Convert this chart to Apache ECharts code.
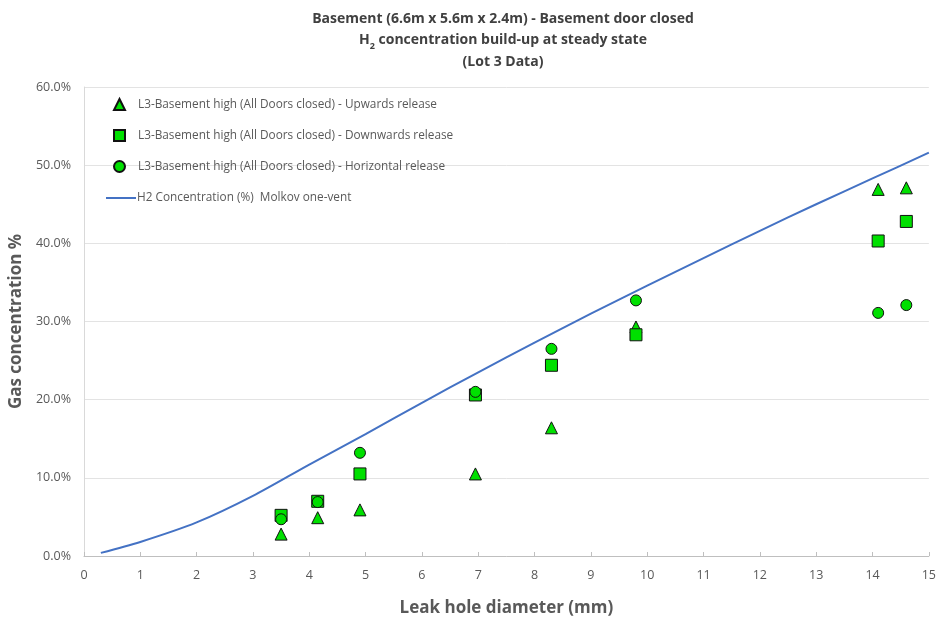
<!DOCTYPE html>
<html><head><meta charset="utf-8">
<script src="https://cdn.jsdelivr.net/npm/echarts@6/dist/echarts.min.js"></script>
<style>html,body{margin:0;padding:0;background:#fff}#c{width:939px;height:624px}</style>
</head><body><div id="c"></div>
<script>
const diameters = [3.5, 4.15, 4.9, 6.95, 8.3, 9.8, 14.1, 14.6];
const upwards = [0.028, 0.049, 0.059, 0.105, 0.164, 0.293, 0.469, 0.471];
const downwards = [0.052, 0.070, 0.105, 0.206, 0.244, 0.283, 0.403, 0.428];
const horizontal = [0.047, 0.069, 0.132, 0.210, 0.265, 0.327, 0.311, 0.321];
const molkovX = [0.3, 1, 2, 3, 4, 5, 6, 7, 8, 9, 10, 11, 12, 13, 14, 15];
const molkovY = [0.004, 0.018, 0.043, 0.077, 0.117, 0.156, 0.196, 0.235, 0.273, 0.310, 0.346, 0.381, 0.416, 0.450, 0.483, 0.516];
const names = [
  'L3-Basement high (All Doors closed) - Upwards release',
  'L3-Basement high (All Doors closed) - Downwards release',
  'L3-Basement high (All Doors closed) - Horizontal release',
  'H2 Concentration (%)  Molkov one-vent'
];
const pair = (xs, ys) => xs.map((x, i) => [x, ys[i]]);
const green = '#00e000';
const grey = '#595959';
const font = '"Open Sans", "Liberation Sans", sans-serif';
const chart = echarts.init(document.getElementById('c'));
const mk = (name, sym, size, data) => ({
  name, type: 'scatter', symbol: sym, symbolSize: size, data,
  itemStyle: { color: green, borderColor: '#111', borderWidth: 1, opacity: 1 }
});
chart.setOption({
  animation: false,
  textStyle: { fontFamily: font },
  title: {
    text: 'Basement (6.6m x 5.6m x 2.4m) - Basement door closed\nH{s|2} concentration build-up at steady state\n(Lot 3 Data)',
    left: 498, top: 3, textAlign: 'center',
    textStyle: {
      fontSize: 14, fontWeight: 'bold', color: '#404040', lineHeight: 21.5, fontFamily: font,
      rich: { s: { fontSize: 9, fontWeight: 'bold', color: '#404040', verticalAlign: 'bottom', padding: [7, 0, 0, 0], fontFamily: font } }
    }
  },
  grid: { left: 82, right: 4, top: 87, bottom: 68, containLabel: false },
  legend: [{
    orient: 'vertical', left: 108, top: 93, itemGap: 18, itemWidth: 11, itemHeight: 11,
    data: [
      { name: names[0], icon: 'triangle' },
      { name: names[1], icon: 'rect' },
      { name: names[2], icon: 'circle' }
    ],
    itemStyle: { opacity: 1 },
    textStyle: { color: grey, fontSize: 11.8, padding: [0, 0, 0, 8], fontFamily: font }
  }, {
    orient: 'vertical', left: 101, top: 187, itemWidth: 30, itemHeight: 2,
    data: [{ name: names[3], icon: 'rect' }],
    textStyle: { color: grey, fontSize: 11.8, padding: [0, 0, 0, -4], fontFamily: font }
  }],
  xAxis: {
    type: 'value', min: 0, max: 15, interval: 1,
    name: 'Leak hole diameter (mm)', nameLocation: 'middle', nameGap: 44,
    nameTextStyle: { fontSize: 17, fontWeight: 'bold', color: grey, fontFamily: font },
    axisLine: { show: true, lineStyle: { color: '#bfbfbf' } },
    axisTick: { show: true, inside: true, length: 4, lineStyle: { color: '#bfbfbf' } },
    axisLabel: { color: grey, fontSize: 12.5, margin: 13 },
    splitLine: { show: false }
  },
  yAxis: {
    type: 'value', min: 0, max: 0.6, interval: 0.1,
    name: 'Gas concentration %', nameLocation: 'middle', nameGap: 55,
    nameTextStyle: { fontSize: 17, fontWeight: 'bold', color: grey, fontFamily: font },
    axisLine: { show: true, lineStyle: { color: '#d9d9d9' } },
    axisTick: { show: false },
    axisLabel: { color: grey, fontSize: 12.5, margin: 13, formatter: v => (v * 100).toFixed(1) + '%' },
    splitLine: { show: true, lineStyle: { color: '#e3e3e3' } }
  },
  series: [
    mk(names[0], 'triangle', 12, pair(diameters, upwards)),
    mk(names[1], 'rect', 12, pair(diameters, downwards)),
    mk(names[2], 'circle', 11, pair(diameters, horizontal)),
    {
      name: names[3], type: 'line', smooth: 0.3, showSymbol: false, symbol: 'none',
      data: pair(molkovX, molkovY),
      lineStyle: { color: '#4472c4', width: 2 }, itemStyle: { color: '#4472c4' }, z: 1
    }
  ]
});
</script></body></html>
